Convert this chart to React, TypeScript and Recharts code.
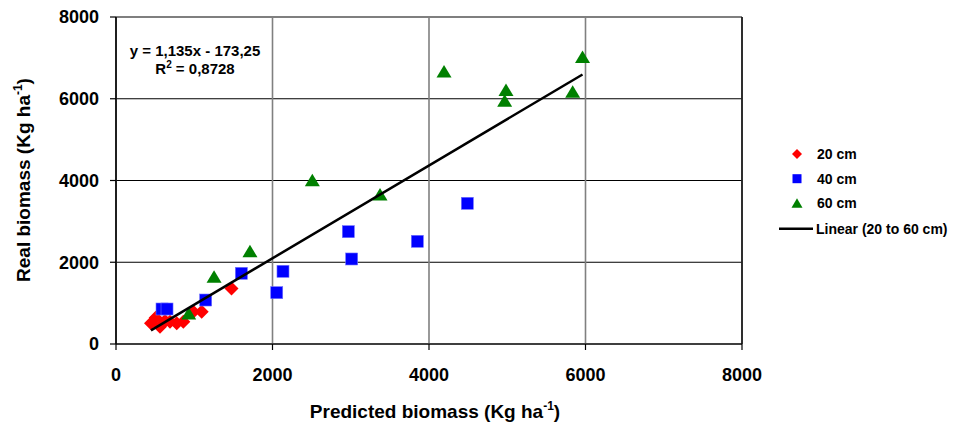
import React from 'react';
import {
  ScatterChart,
  Scatter,
  XAxis,
  YAxis,
  CartesianGrid,
  ReferenceLine,
  Legend,
  Customized,
} from 'recharts';

// ---- Data ----
const cm20X = [447, 507, 562, 626, 690, 776, 860, 988, 1095, 1476];
const cm20Y = [506, 643, 423, 563, 546, 506, 546, 790, 790, 1358];

const cm40X = [588, 652, 1146, 1602, 2054, 2134, 2969, 3012, 3851, 4490];
const cm40Y = [856, 856, 1076, 1729, 1256, 1778, 2748, 2080, 2512, 3442];

const cm60X = [929, 1253, 1712, 2509, 3374, 4192, 4967, 4984, 5836, 5962];
const cm60Y = [734, 1630, 2258, 3995, 3645, 6654, 5938, 6202, 6160, 7009];

// Linear trend endpoints (y = 1,135x - 173,25)
const trendX = [447, 5962];
const trendY = [334, 6594];

const axisTicks = [0, 2000, 4000, 6000, 8000];
const seriesNames = ['20 cm', '40 cm', '60 cm', 'Linear (20 to 60 cm)'];
const equationText = 'y = 1,135x - 173,25';
const r2Text = '0,8728';
const xTitle = 'Predicted biomass (Kg ha';
const yTitle = 'Real biomass (Kg ha';

const toPoints = (xs: number[], ys: number[]) => xs.map((x, i) => ({ x, y: ys[i] }));
const data20 = toPoints(cm20X, cm20Y);
const data40 = toPoints(cm40X, cm40Y);
const data60 = toPoints(cm60X, cm60Y);
const dataTrend = toPoints(trendX, trendY);

const FONT = '"Liberation Sans", Arial, Helvetica, sans-serif';
const RED = '#FF0000';
const BLUE = '#0000FF';
const GREEN = '#008000';

const Diamond = (props: any) => {
  const { cx, cy } = props;
  const r = 7;
  return <path d={`M${cx},${cy - r}L${cx + r},${cy}L${cx},${cy + r}L${cx - r},${cy}Z`} fill={RED} />;
};
const Square = (props: any) => {
  const { cx, cy } = props;
  const h = 6;
  return <rect x={cx - h} y={cy - h} width={2 * h} height={2 * h} fill={BLUE} stroke="#6f6fff" strokeWidth={0.6} />;
};
const Triangle = (props: any) => {
  const { cx, cy } = props;
  return <path d={`M${cx},${cy - 7}L${cx + 7.5},${cy + 5.5}L${cx - 7.5},${cy + 5.5}Z`} fill={GREEN} />;
};
const NoDot = () => <g />;

const LegendContent = () => {
  const rows = [14, 38.7, 63.3, 88.7];
  const mx = 27;
  return (
    <svg width={184} height={100} style={{ display: 'block', overflow: 'visible' }}>
      <path d={`M${mx},${rows[0] - 5}L${mx + 5},${rows[0]}L${mx},${rows[0] + 5}L${mx - 5},${rows[0]}Z`} fill={RED} />
      <rect x={mx - 4.5} y={rows[1] - 4.5} width={9} height={9} fill={BLUE} />
      <path d={`M${mx},${rows[2] - 5}L${mx + 5.5},${rows[2] + 4.5}L${mx - 5.5},${rows[2] + 4.5}Z`} fill={GREEN} />
      <line x1={9} x2={43} y1={rows[3]} y2={rows[3]} stroke="#000" strokeWidth={2.5} />
      {seriesNames.map((n, i) => (
        <text
          key={n}
          x={i === 3 ? 46 : 47}
          y={rows[i] + 5}
          fontFamily={FONT}
          fontWeight="bold"
          fontSize={14}
          fill="#000"
        >
          {n}
        </text>
      ))}
    </svg>
  );
};

const Annotations = () => (
  <g fontFamily={FONT} fontWeight="bold" fill="#000">
    <text x={195} y={56} textAnchor="middle" fontSize={15}>
      {equationText}
    </text>
    <text x={195} y={74} textAnchor="middle" fontSize={15}>
      <tspan>R</tspan>
      <tspan fontSize={10} dy={-6}>2</tspan>
      <tspan dy={6}>{' = ' + r2Text}</tspan>
    </text>
    <text x={435} y={418} textAnchor="middle" fontSize={19}>
      <tspan>{xTitle}</tspan>
      <tspan fontSize={12} dy={-8}>-1</tspan>
      <tspan dy={8}>)</tspan>
    </text>
    <text x={30} y={180} textAnchor="middle" fontSize={19} transform="rotate(-90 30 180)">
      <tspan>{yTitle}</tspan>
      <tspan fontSize={12} dy={-8}>-1</tspan>
      <tspan dy={8}>)</tspan>
    </text>
  </g>
);

const tickStyle = { fontFamily: FONT, fontWeight: 'bold', fontSize: 18, fill: '#000' };

export default function App() {
  return (
    <div style={{ position: 'absolute', left: 0, top: 0, width: 954, height: 422, background: '#fff' }}>
      <ScatterChart width={954} height={422} margin={{ top: 17, right: 212, bottom: 0, left: 0 }}>
        <CartesianGrid vertical={false} stroke="#000" strokeWidth={1.2} />
        <CartesianGrid horizontal={false} stroke="#808080" strokeWidth={1.6} />
        <XAxis
          type="number"
          dataKey="x"
          domain={[0, 8000]}
          ticks={axisTicks}
          interval={0}
          height={78}
          tickSize={6}
          tickMargin={18}
          tick={tickStyle}
          axisLine={{ stroke: '#000', strokeWidth: 1.2 }}
          tickLine={{ stroke: '#000', strokeWidth: 1.2 }}
        />
        <YAxis
          type="number"
          dataKey="y"
          domain={[0, 8000]}
          ticks={axisTicks}
          interval={0}
          width={116}
          tickSize={6}
          tickMargin={11}
          tick={tickStyle}
          axisLine={{ stroke: '#000', strokeWidth: 1.6 }}
          tickLine={{ stroke: '#000', strokeWidth: 1.2 }}
        />
        <ReferenceLine x={8000} stroke="#000" strokeWidth={1.4} />
        <Scatter name={seriesNames[0]} data={data20} shape={Diamond} isAnimationActive={false} />
        <Scatter name={seriesNames[1]} data={data40} shape={Square} isAnimationActive={false} />
        <Scatter name={seriesNames[2]} data={data60} shape={Triangle} isAnimationActive={false} />
        <Scatter
          name={seriesNames[3]}
          data={dataTrend}
          line={{ stroke: '#000', strokeWidth: 2.5 }}
          shape={NoDot}
          isAnimationActive={false}
        />
        <Legend
          layout="horizontal"
          verticalAlign="middle"
          align="center"
          content={LegendContent}
          wrapperStyle={{ left: 770, top: 140, width: 184, height: 100 }}
        />
        <Customized component={Annotations} />
      </ScatterChart>
    </div>
  );
}
